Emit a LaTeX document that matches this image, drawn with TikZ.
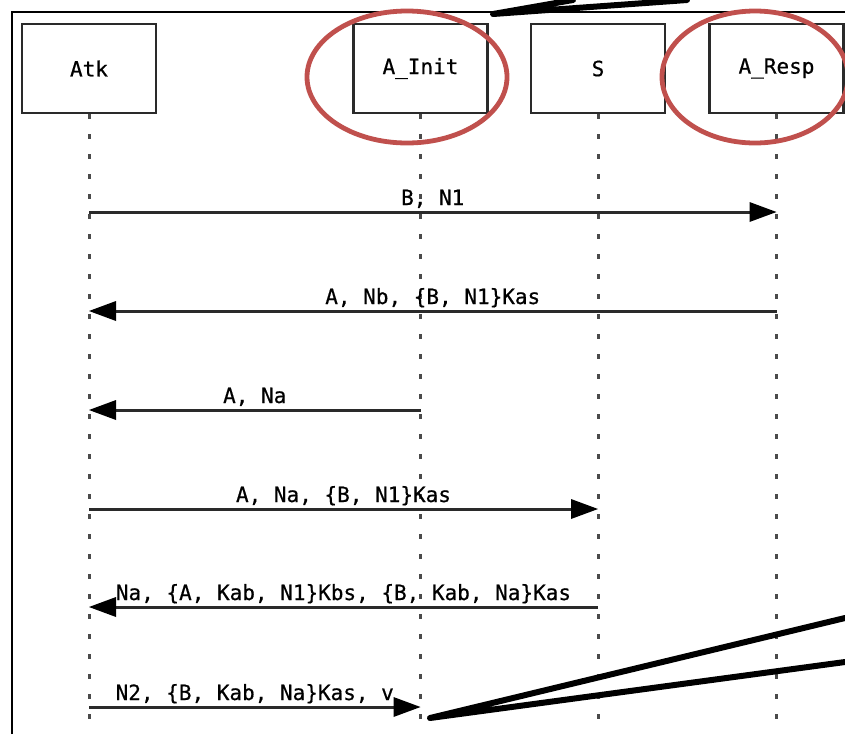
\documentclass[tikz,border=0pt]{standalone}
\usepackage{fontspec}
\newfontfamily\seqfont[FakeBold=0.6]{DejaVu Sans Mono}
\usetikzlibrary{arrows.meta}
\definecolor{callred}{HTML}{C0504D}
\definecolor{inkgray}{HTML}{2A2A2A}
\newcommand{\seqsize}{\fontsize{21}{25}\selectfont}
\tikzset{
  actor/.style={draw=inkgray, line width=2.5pt, minimum width=134pt, minimum height=89pt,
    inner sep=0pt, font=\seqfont\seqsize},
  lifeline/.style={draw=inkgray!85, line width=3pt, dash pattern=on 5pt off 15pt},
  msg/.style={draw=inkgray, line width=3pt,
    -{Triangle[length=27pt,width=20pt,fill=black,line width=0pt]}},
  msglabel/.style={anchor=base, yshift=7pt, inner sep=0pt, font=\seqfont\seqsize},
  highlight/.style={draw=callred, line width=4.8pt},
  pointer/.style={line width=6pt, line cap=round, line join=round}
}
\begin{document}
\begin{tikzpicture}[x=1pt, y=-1pt]
\useasboundingbox (0,0) rectangle (845,734);

% outer frame (only top and left edges in view)
\draw[line width=1.8pt] (12,734) -- (12,12) -- (845,12);

% participants
\node[actor] (atk)  at (89,68.5)    {Atk};
\node[actor] (init) at (420.5,68.5) {A\_Init};
\node[actor] (srv)  at (598,68.5)   {S};
\node[actor] (resp) at (776.5,68.5) {A\_Resp};

% lifeline ends
\coordinate (atkEnd)  at (89,734);
\coordinate (initEnd) at (420.5,734);
\coordinate (srvEnd)  at (598,734);
\coordinate (respEnd) at (776.5,734);

\draw[lifeline] (atk.south)  -- (atkEnd);
\draw[lifeline] (init.south) -- (initEnd);
\draw[lifeline] (srv.south)  -- (srvEnd);
\draw[lifeline] (resp.south) -- (respEnd);

% message end points
\coordinate (a1) at (89,212);    \coordinate (r1) at (776.5,212);
\coordinate (a2) at (89,311);    \coordinate (r2) at (776.5,311);
\coordinate (a3) at (89,410);    \coordinate (i3) at (420.5,410);
\coordinate (a4) at (89,509);    \coordinate (s4) at (598,509);
\coordinate (a5) at (89,607);    \coordinate (s5) at (598,607);
\coordinate (a6) at (89,707);    \coordinate (i6) at (420.5,707);

% messages
\draw[msg] (a1) -- node[msglabel]{B, N1} (r1);
\draw[msg] (r2) -- node[msglabel]{A, Nb, \{B, N1\}Kas} (a2);
\draw[msg] (i3) -- node[msglabel]{A, Na} (a3);
\draw[msg] (a4) -- node[msglabel]{A, Na, \{B, N1\}Kas} (s4);
\draw[msg] (s5) -- node[msglabel]{Na, \{A, Kab, N1\}Kbs, \{B, Kab, Na\}Kas} (a5);
\draw[msg] (a6) -- node[msglabel]{N2, \{B, Kab, Na\}Kas, v} (i6);

% highlight rings
\draw[highlight] (407,77) ellipse [x radius=100, y radius=66];
\draw[highlight] (755,77) ellipse [x radius=93, y radius=66];

% callout pointers
\coordinate (topTip) at (493,14);
\coordinate (topA) at (573,0);
\coordinate (topB) at (687,0);
\draw[pointer] (topA) -- (topTip) -- (topB);

\coordinate (botTip) at (430,718);
\coordinate (botA) at (845,618);
\coordinate (botB) at (845,662);
\draw[pointer] (botA) -- (botTip) -- (botB);
\end{tikzpicture}
\end{document}
